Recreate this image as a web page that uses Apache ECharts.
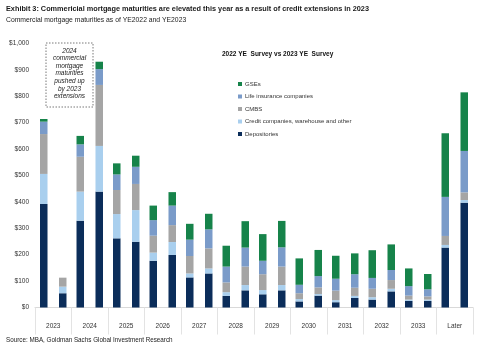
<!DOCTYPE html>
<html>
<head>
<meta charset="utf-8">
<script src="https://cdn.jsdelivr.net/npm/echarts@6/dist/echarts.min.js"></script>
<style>
  html, body { margin: 0; padding: 0; background: #fff; }
  #chart { width: 485px; height: 351px; }
</style>
</head>
<body>
<div id="chart"></div>
<script>
// maturity buckets
const categories = ['2023', '2024', '2025', '2026', '2027', '2028', '2029', '2030', '2031', '2032', '2033', 'Later'];
const yTicks = [0, 100, 200, 300, 400, 500, 600, 700, 800, 900, 1000];

// $bn -- YE2022 survey
const dep22 = [392, 329, 262, 177, 114, 44, 50, 23, 20, 30, 25, 227];
const credit22 = [114, 110, 92, 31, 15, 14, 16, 9, 8, 9, 5, 10];
const cmbs22 = [151, 132, 91, 64, 66, 37, 60, 22, 36, 32, 15, 34];
const life22 = [47, 47, 59, 59, 62, 60, 51, 32, 45, 41, 36, 148];
const gse22 = [10, 32, 42, 55, 60, 79, 101, 100, 87, 105, 67, 241];

// YE2023 survey
const dep23 = [54, 439, 249, 199, 129, 65, 65, 45, 36, 61, 25, 397];
const credit23 = [25, 173, 120, 49, 19, 20, 20, 6, 8, 10, 5, 10];
const cmbs23 = [34, 231, 99, 64, 76, 70, 70, 25, 31, 33, 12, 29];
const life23 = [0, 60, 65, 74, 72, 72, 73, 43, 51, 38, 27, 157];
const gse23 = [0, 28, 42, 51, 59, 100, 100, 99, 79, 97, 58, 222];

const names = ['Depositories', 'Credit companies, warehouse and other', 'CMBS', 'Life insurance companies', 'GSEs'];
const colors = ['#0b2d5a', '#a9cfee', '#a5a5a5', '#7a9bc9', '#16834a'];
const survey22 = [dep22, credit22, cmbs22, life22, gse22];
const survey23 = [dep23, credit23, cmbs23, life23, gse23];

const FONT = '"Liberation Sans", Arial, sans-serif';
const NARROW = '"Liberation Sans Narrow", "Liberation Sans", Arial, sans-serif';

const chart = echarts.init(document.getElementById('chart'), null, {renderer: 'canvas'});

function makeSeries(stack, values) {
    return values.map((data, i) => ({
        name: names[i],
        type: 'bar',
        stack: stack,
        barWidth: 7.5,
        barGap: '153%',
        itemStyle: {color: colors[i]},
        emphasis: {disabled: true},
        data: data,
    }));
}

chart.setOption({
    animation: false,
    textStyle: {fontFamily: FONT},
    title: [
        {
            text: 'Exhibit 3: Commericial mortgage maturities are elevated this year as a result of credit extensions in 2023',
            left: 6, top: 5, padding: 0,
            textStyle: {fontFamily: NARROW, fontSize: 7.3, fontWeight: 'bold', color: '#1a1a1a'},
        },
        {
            text: 'Commercial mortgage maturities as of YE2022 and YE2023',
            left: 6, top: 16.5, padding: 0,
            textStyle: {fontFamily: NARROW, fontSize: 6.8, fontWeight: 'normal', color: '#222'},
        },
        {
            text: 'Source: MBA, Goldman Sachs Global Investment Research',
            left: 6, top: 337, padding: 0,
            textStyle: {fontFamily: NARROW, fontSize: 6.3, fontWeight: 'normal', color: '#222'},
        },
        {
            text: '2022 YE  Survey vs 2023 YE  Survey',
            left: 222, top: 51, padding: 0,
            textStyle: {fontFamily: FONT, fontSize: 6.5, fontWeight: 'bold', color: '#111'},
        },
    ],
    legend: {
        orient: 'vertical',
        left: 238, top: 81, padding: 0,
        itemWidth: 4, itemHeight: 4,
        itemGap: 6.5,
        icon: 'rect',
        selectedMode: false,
        data: ['GSEs', 'Life insurance companies', 'CMBS', 'Credit companies, warehouse and other', 'Depositories'],
        textStyle: {fontSize: 6, color: '#333', padding: [0, 0, 0, -2]},
    },
    grid: {left: 35, right: 12, top: 43.5, bottom: 43.5, containLabel: false},
    xAxis: {
        type: 'category',
        data: categories,
        axisLine: {lineStyle: {color: '#d9d9d9'}},
        axisTick: {show: true, interval: 0, length: 27, lineStyle: {color: '#e3e3e3'}},
        axisLabel: {fontSize: 6.5, color: '#333', margin: 15, interval: 0},
    },
    yAxis: {
        type: 'value',
        min: yTicks[0],
        max: yTicks[yTicks.length - 1],
        interval: 100,
        splitLine: {show: false},
        axisLine: {show: false},
        axisTick: {show: false},
        axisLabel: {
            fontSize: 6.5, color: '#333', margin: 6,
            formatter: v => '$' + v.toLocaleString('en-US'),
        },
    },
    graphic: [
        {
            type: 'rect',
            shape: {x: 46, y: 43, width: 47, height: 64},
            style: {fill: '#fff', stroke: '#555', lineWidth: 0.8, lineDash: [1.5, 1.5]},
            z: 10,
        },
        {
            type: 'text',
            x: 69.5, y: 47,
            style: {
                text: '2024\ncommercial\nmortgage\nmaturities\npushed up\nby 2023\nextensions',
                fontFamily: FONT, fontSize: 6.5, fontStyle: 'italic',
                lineHeight: 7.6, align: 'center', fill: '#222',
            },
            z: 11,
        },
    ],
    series: [...makeSeries('ye2022', survey22), ...makeSeries('ye2023', survey23)],
});
</script>
</body>
</html>
